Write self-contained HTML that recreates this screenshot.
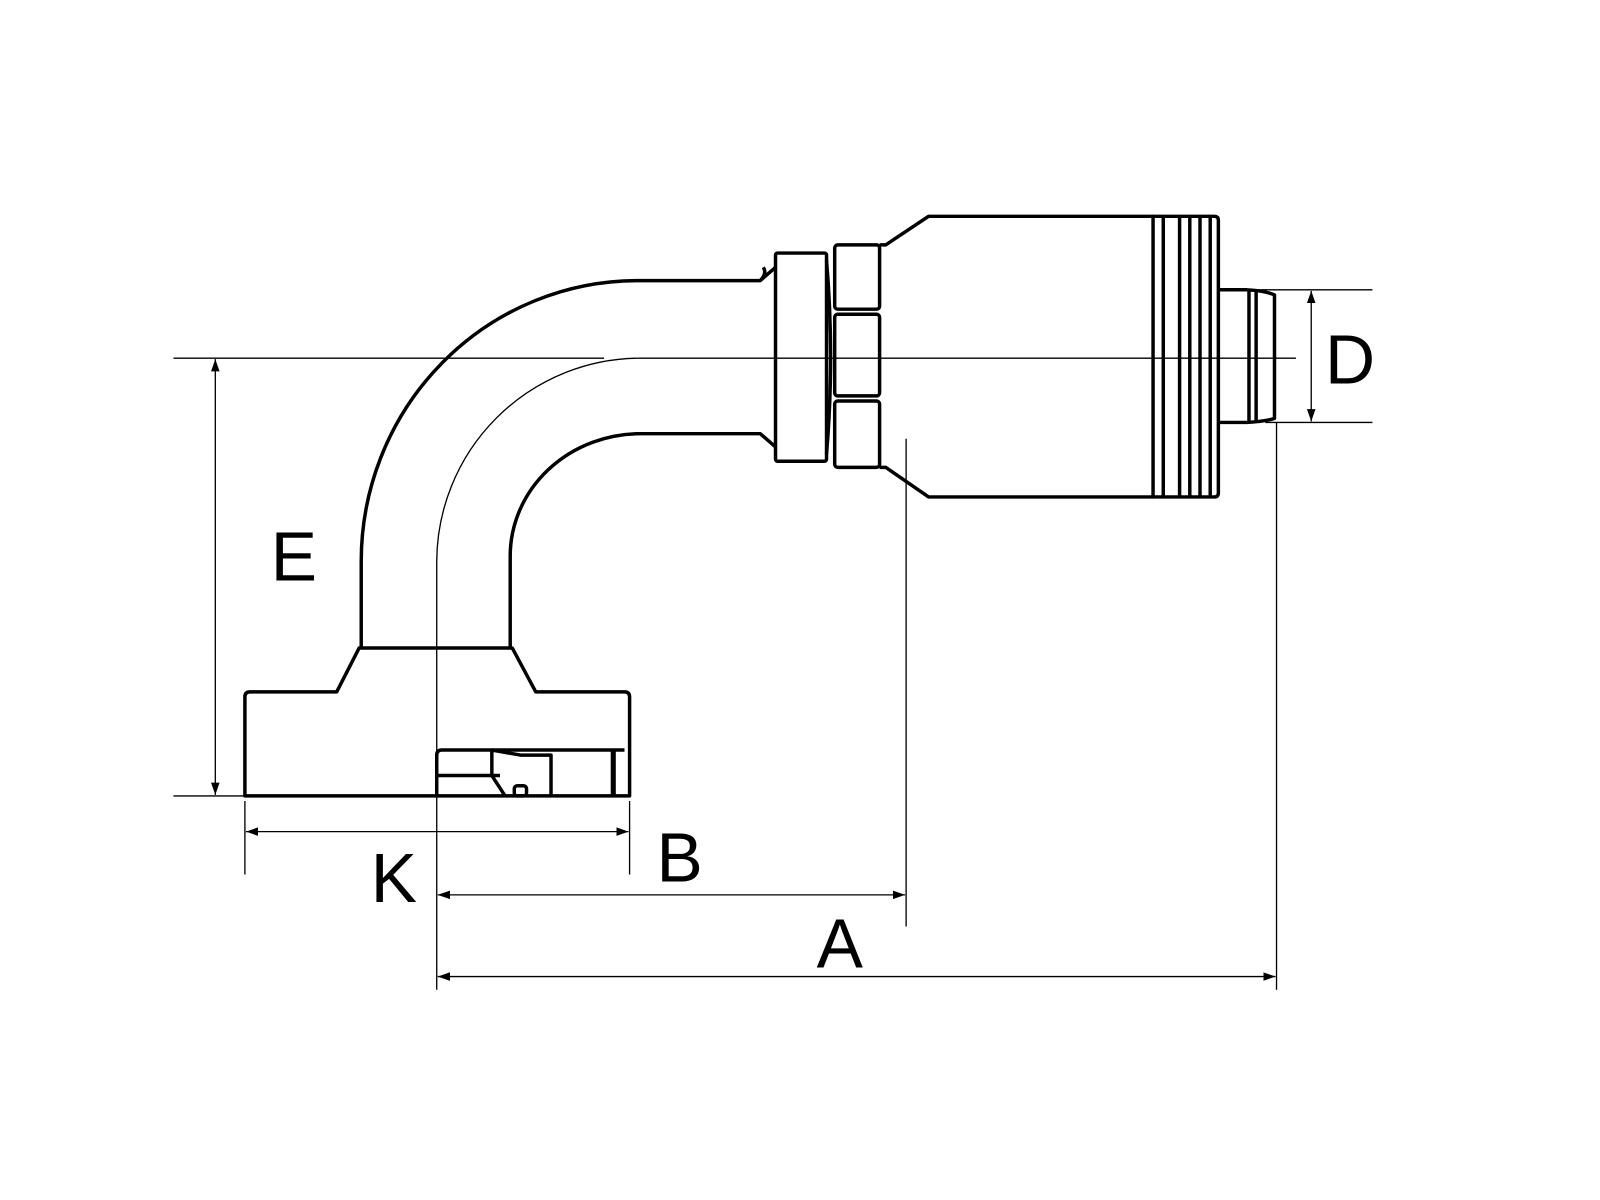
<!DOCTYPE html>
<html><head><meta charset="utf-8"><style>html,body{margin:0;padding:0;background:#fff}svg{display:block}</style></head>
<body>
<svg width="1600" height="1200" viewBox="0 0 1568 1176" xmlns="http://www.w3.org/2000/svg">
<defs>
<marker id="ar" viewBox="0 0 10 10" refX="10" refY="5" markerWidth="12" markerHeight="12" markerUnits="userSpaceOnUse" orient="auto-start-reverse"><path d="M0,1.5 L10,5 L0,8.5 z" fill="#000"/></marker>
</defs>
<g fill="none" stroke="#000" stroke-width="1.3">
<line x1="170" y1="351" x2="592" y2="351"/>
<path d="M428,780 L428,550 A200 200 0 0 1 628,351 L1270,351"/>
<line x1="170" y1="780" x2="240" y2="780"/>
<line x1="211" y1="352" x2="211" y2="779" marker-start="url(#ar)" marker-end="url(#ar)"/>
<line x1="240" y1="785" x2="240" y2="857"/>
<line x1="617" y1="785" x2="617" y2="857"/>
<line x1="241" y1="815" x2="616" y2="815" marker-start="url(#ar)" marker-end="url(#ar)"/>
<line x1="888" y1="430" x2="888" y2="908"/>
<line x1="429" y1="877" x2="887" y2="877" marker-start="url(#ar)" marker-end="url(#ar)"/>
<line x1="428" y1="780" x2="428" y2="970"/>
<line x1="1251" y1="414" x2="1251" y2="970"/>
<line x1="429" y1="957" x2="1250" y2="957" marker-start="url(#ar)" marker-end="url(#ar)"/>
<line x1="1220" y1="284" x2="1345" y2="284"/>
<line x1="1240" y1="414" x2="1345" y2="414"/>
<line x1="1285" y1="285" x2="1285" y2="413" marker-start="url(#ar)" marker-end="url(#ar)"/>
</g>
<g fill="none" stroke="#000" stroke-width="3.4" stroke-linejoin="round">
<path d="M354,635 L354,550 A271 275 0 0 1 625,275 L745,275 L760,262"/>
<path d="M500,635 L500,545 A128 120 0 0 1 628,425 L745,425 L760,438"/>
<path d="M745,275 Q752,268 748,262"/>
<rect x="760" y="248" width="50" height="204" rx="2"/>
<rect x="818" y="240" width="44" height="63" rx="3"/>
<rect x="818" y="308" width="44" height="80" rx="3"/>
<rect x="818" y="393" width="44" height="65" rx="3"/>
<path d="M810,255 Q818,350 810,445"/>
<path d="M862,240 L868,240 L910,212 L1130,212"/>
<path d="M862,458 L868,458 L910,487 L1130,487"/>
<path d="M1130,212 L1190,212 Q1194,212 1194,216 L1194,483 Q1194,487 1190,487 L1130,487 Z"/>
<line x1="1140" y1="212" x2="1140" y2="487"/>
<line x1="1156" y1="212" x2="1156" y2="487"/>
<line x1="1166" y1="212" x2="1166" y2="487"/>
<line x1="1176" y1="212" x2="1176" y2="487"/>
<line x1="1186" y1="212" x2="1186" y2="487"/>
<path d="M1194,284 L1222,284 Q1240,285 1249,289 L1249,410 Q1240,413 1222,414 L1194,414"/>
<line x1="1224" y1="284" x2="1224" y2="414"/>
<line x1="1231" y1="285" x2="1231" y2="413"/>
<path d="M352,635 L502,635 L525,678 L612,678 Q617,678 617,683 L617,780 L240,780 L240,683 Q240,678 245,678 L330,678 Z"/>
<path d="M428,780 L428,740 Q428,735 433,735 L612,735"/>
<line x1="428" y1="760" x2="490" y2="760"/>
<path d="M482,735 L482,760 L495,780"/>
<path d="M482,735 L510,740 L540,740 L540,780"/>
<rect x="504" y="770" width="12" height="10" rx="3"/>
<line x1="601" y1="735" x2="601" y2="780" stroke-width="5"/>
</g>
<g font-family="Liberation Sans, sans-serif" font-size="68" fill="#000" text-anchor="middle">
<text x="288" y="569">E</text>
<text x="666" y="864">B</text>
<text x="386" y="884">K</text>
<text x="823" y="948">A</text>
<text x="1323" y="376">D</text>
</g>
</svg>
</body></html>
